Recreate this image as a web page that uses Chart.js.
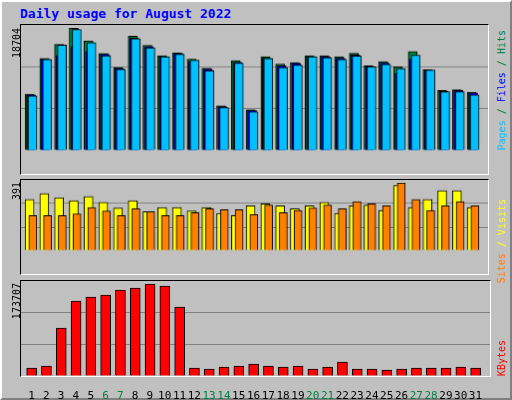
<!DOCTYPE html>
<html>
<head>
<meta charset="utf-8">
<script src="https://cdn.jsdelivr.net/npm/chart.js@4"></script>
<style>
  body { margin: 0; background: #fff; }
  #wrap { position: relative; width: 508px; height: 396px; background: #c0c0c0;
          border: 2px solid; border-color: #fff #808080 #808080 #fff; outline: 1px solid #000; }
  canvas { position: absolute; }
  .pane { border-top: 1px solid #000; border-left: 1px solid #000; border-right: 1px solid #fff; border-bottom: 1px solid #fff; }
  .box { position: absolute; width: 469px; height: 95px; box-sizing: content-box; }
  .t { position: absolute; font-family: "DejaVu Sans Mono", monospace; white-space: nowrap; }
  .v { writing-mode: vertical-rl; transform: rotate(180deg); font-size: 10px; }
</style>
</head>
<body>
<div id="wrap">
  <div class="t" style="left:18px;top:4px;color:#0000ff;font-weight:bold;font-size:13px">Daily usage for August 2022</div>
  <canvas id="c1" class="pane" style="left:18px;top:22px"></canvas>
  <canvas id="c2" class="pane" style="left:18px;top:177px"></canvas>
  <canvas id="c3" style="left:19px;top:279px"></canvas>
  <div class="box pane" style="left:18px;top:278px"></div>
  <div class="t v" style="left:9px;top:26px;color:#000">18704</div>
  <div class="t v" style="left:9px;top:180px;color:#000">391</div>
  <div class="t v" style="left:9px;top:281px;color:#000">173707</div>
  <div class="t v" style="left:494px;top:28px"><span style="color:#00c0ff">Pages</span><span style="color:#008040"> / </span><span style="color:#0000ff">Files</span><span style="color:#008040"> / Hits</span></div>
  <div class="t v" style="left:494px;top:197px"><span style="color:#ff8000">Sites</span><span style="color:#ffff00"> / Visits</span></div>
  <div class="t v" style="left:494px;top:338px;color:#ff0000">KBytes</div>
</div>
<script>
const days = [1,2,3,4,5,6,7,8,9,10,11,12,13,14,15,16,17,18,19,20,21,22,23,24,25,26,27,28,29,30,31];
const weekends = [6,7,13,14,20,21,27,28];
const hits = [8610,14080,16240,18704,16790,14840,12680,17510,16110,14500,14970,13990,12590,6830,13740,6230,14370,13230,13440,14500,14500,14370,14880,12970,13610,12810,15140,12340,9160,9290,8900];
const files = [8480,13950,14540,15900,15140,14720,12550,17210,15900,14370,14840,13650,12470,6700,13480,6110,14120,12970,13320,14370,14370,14120,14630,12850,13360,11790,13990,12210,9030,9160,8780];
const pages = [8360,13950,16120,18530,16500,14500,12430,17130,15730,14340,14720,13830,12210,6580,13360,5940,14080,12680,13060,14340,14210,13950,14460,12810,13190,12550,14590,12300,8990,8990,8480];
const visits = [297,331,306,289,314,280,246,289,225,250,250,229,250,216,203,259,271,259,242,259,280,216,259,263,233,378,250,297,348,348,250];
const sites = [203,203,203,212,250,229,203,242,225,203,203,220,242,237,237,208,263,220,233,246,263,242,284,271,259,391,297,233,259,284,259];
const kbytes = [15110,18880,90630,141610,149170,152940,162380,166160,173707,169940,130290,15110,13220,16990,18880,22660,18880,16990,18880,13220,16990,26430,13220,13220,11330,13220,15110,15110,15110,16990,15110];
const maxes = [19210, 409, 179380];

function pts(vals, shift) { return vals.map((v, i) => ({ x: days[i] + shift, y: v })); }

// lower order is drawn on top
function ds(vals, shift, color, w, order) {
  return { data: pts(vals, shift), backgroundColor: color, borderColor: '#000', borderWidth: 1,
           borderSkipped: 'bottom', barThickness: w, grouped: false, order: order };
}

function panel(id, w, h, datasets, max, showX) {
  const cv = document.getElementById(id);
  cv.width = w; cv.height = h; cv.style.width = w + 'px'; cv.style.height = h + 'px';
  return new Chart(cv, {
    type: 'bar',
    data: { datasets: datasets },
    options: {
      responsive: false, animation: false, devicePixelRatio: 1,
      layout: { padding: 0 },
      plugins: { legend: { display: false }, tooltip: { enabled: false } },
      scales: {
        x: { type: 'linear', min: 0.29, max: 31.98, offset: false,
             display: showX, grid: { display: false }, border: { display: false },
             afterBuildTicks: s => { s.ticks = days.map(d => ({ value: d })); },
             afterFit: s => { s.height = 24; },
             ticks: { autoSkip: false, maxRotation: 0, padding: 6,
                      font: { family: 'DejaVu Sans Mono', size: 11 },
                      color: c => weekends.includes(c.tick.value) ? '#008040' : '#000' } },
        y: { min: 0, max: max, display: true, border: { display: false },
             afterBuildTicks: s => { s.ticks = [0, max / 3, 2 * max / 3].map(v => ({ value: v })); },
             afterFit: s => { s.width = 0; },
             ticks: { display: false },
             grid: { color: c => c.tick.value === 0 ? 'rgba(0,0,0,0)' : '#808080', drawTicks: false } }
      }
    }
  });
}

panel('c1', 469, 151, [
  ds(hits, -0.13, '#008040', 9, 3),
  ds(files, -0.03, '#0000ff', 9, 2),
  ds(pages, 0.07, '#00c0ff', 9, 1)
], maxes[0], false);

panel('c2', 469, 96, [
  ds(visits, -0.13, '#ffff00', 9, 2),
  ds(sites, 0.09, '#ff8000', 8, 1)
], maxes[1], false);

panel('c3', 469, 119, [
  ds(kbytes, 0.01, '#ff0000', 10, 1)
], maxes[2], true);
</script>
</body>
</html>
